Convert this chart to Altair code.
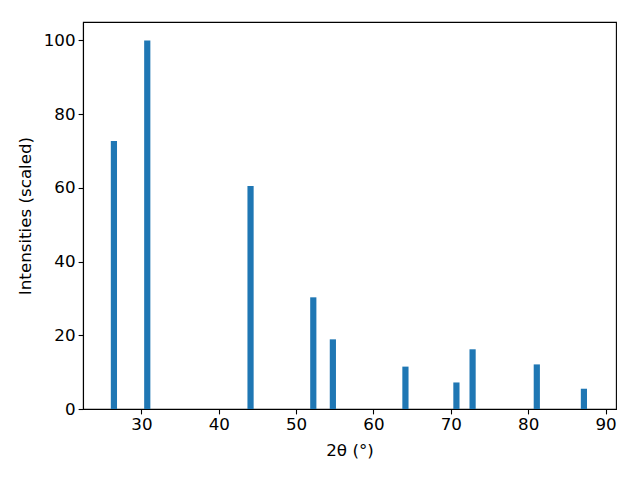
import altair as alt
import pandas as pd

# Peak positions (2θ, degrees) and scaled intensities
two_theta = [26.45, 30.76, 44.11, 52.22, 54.75, 64.13, 70.72, 72.81, 81.11, 87.20]
intensity = [72.7, 100.0, 60.5, 30.3, 18.9, 11.5, 7.2, 16.2, 12.1, 5.5]

x_ticks = [30, 40, 50, 60, 70, 80, 90]
y_ticks = [0, 20, 40, 60, 80, 100]

df = pd.DataFrame({"two_theta": two_theta, "intensity": intensity})

FONT = "DejaVu Sans"

chart = (
    alt.Chart(df)
    .mark_bar(color="#1f77b4", size=6.2)
    .encode(
        x=alt.X(
            "two_theta:Q",
            scale=alt.Scale(domain=[23.1, 90.7], nice=False, zero=False),
            axis=alt.Axis(
                title="2θ (°)",
                values=x_ticks,
                grid=False,
                tickSize=4.9,
                labelPadding=3,
                titlePadding=9,
                domainColor="black",
                tickColor="black",
            ),
        ),
        y=alt.Y(
            "intensity:Q",
            scale=alt.Scale(domain=[0, 105], nice=False),
            axis=alt.Axis(
                title="Intensities (scaled)",
                values=y_ticks,
                grid=False,
                tickSize=4.9,
                labelPadding=3,
                titlePadding=9,
                domainColor="black",
                tickColor="black",
            ),
        ),
    )
    .properties(
        width=533,
        height=387,
        autosize=alt.AutoSizeParams(type="none"),
        padding={"left": 75, "top": 14, "right": 16, "bottom": 60},
    )
    .configure_view(stroke="black", strokeWidth=1.1)
    .configure_axis(
        labelFont=FONT,
        titleFont=FONT,
        labelFontSize=16.7,
        titleFontSize=16.7,
        labelColor="black",
        titleColor="black",
        titleFontWeight="normal",
        domainWidth=1.1,
        tickWidth=1.1,
    )
)

chart.save("out.html", embed_options={"renderer": "svg", "actions": False})
